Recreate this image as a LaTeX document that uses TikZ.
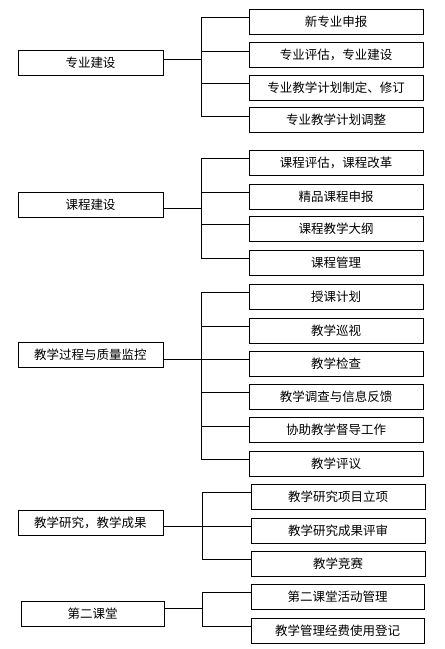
\documentclass[tikz,border=0pt]{standalone}
\usepackage{fontspec}
\newfontfamily\cjk{Noto Sans CJK SC}
\begin{document}
\begin{tikzpicture}[x=1pt,y=-1pt,
 box/.style={draw, line width=1pt, rectangle, inner sep=0pt, outer sep=0pt, anchor=north west, font=\cjk\fontsize{12.5}{14}\selectfont},
 lbox/.style={box, minimum width=145pt, minimum height=25pt},
 rbox/.style={box, minimum width=174pt, minimum height=25pt},
 conn/.style={line width=1pt}]
\useasboundingbox (0,0) rectangle (445,649);
% group 1
\node[lbox] (a0) at (18,50) {专业建设};
\node[rbox] (a1) at (249,9) {新专业申报};
\node[rbox] (a2) at (249,42.5) {专业评估，专业建设};
\node[rbox] (a3) at (249,75) {专业教学计划制定、修订};
\node[rbox] (a4) at (249,107.5) {专业教学计划调整};
\coordinate (ta) at (201,0);
\coordinate (a0c) at ([yshift=3.5pt]a0.east);
\foreach \i in {1,...,4}{\coordinate (a\i c) at ([yshift=4pt]a\i.west);}
\draw[conn] (a1c) -- (a1c -| ta) -- (a4c -| ta) -- (a4c);
\draw[conn] (a2c) -- (a2c -| ta);
\draw[conn] (a3c) -- (a3c -| ta);
\draw[conn] (a0c) -- (a0c -| ta);
% group 2
\node[lbox] (b0) at (18,192) {课程建设};
\node[rbox] (b1) at (249,150) {课程评估，课程改革};
\node[rbox] (b2) at (249,184) {精品课程申报};
\node[rbox] (b3) at (249,216) {课程教学大纲};
\node[rbox] (b4) at (249,250) {课程管理};
\coordinate (tb) at (201,0);
\coordinate (b0c) at ([yshift=-3.5pt]b0.east);
\foreach \i in {1,...,4}{\coordinate (b\i c) at ([yshift=4.5pt]b\i.west);}
\draw[conn] (b1c) -- (b1c -| tb) -- (b4c -| tb) -- (b4c);
\draw[conn] (b2c) -- (b2c -| tb);
\draw[conn] (b3c) -- (b3c -| tb);
\draw[conn] (b0c) -- (b0c -| tb);
% group 3
\node[lbox] (c0) at (18,342) {教学过程与质量监控};
\node[rbox] (c1) at (249,284) {授课计划};
\node[rbox] (c2) at (249,318) {教学巡视};
\node[rbox] (c3) at (249,351) {教学检查};
\node[rbox] (c4) at (249,384) {教学调查与信息反馈};
\node[rbox] (c5) at (249,417.5) {协助教学督导工作};
\node[rbox] (c6) at (249,451) {教学评议};
\coordinate (tc) at (201,0);
\coordinate (c0c) at ([yshift=-4.5pt]c0.east);
\foreach \i in {1,...,6}{\coordinate (c\i c) at ([yshift=4pt]c\i.west);}
\draw[conn] (c1c) -- (c1c -| tc) -- (c6c -| tc) -- (c6c);
\foreach \i in {2,...,5}{\draw[conn] (c\i c) -- (c\i c -| tc);}
\draw[conn] (c0c) -- (c0c -| tc);
% group 4
\node[lbox] (d0) at (18,510) {教学研究，教学成果};
\node[rbox] (d1) at (251,484) {教学研究项目立项};
\node[rbox] (d2) at (251,518) {教学研究成果评审};
\node[rbox] (d3) at (251,551) {教学竞赛};
\coordinate (td) at (202,0);
\coordinate (d0c) at ([yshift=-4pt]d0.east);
\foreach \i in {1,...,3}{\coordinate (d\i c) at ([yshift=4pt]d\i.west);}
\draw[conn] (d1c) -- (d1c -| td) -- (d3c -| td) -- (d3c);
\draw[conn] (d2c) -- (d2c -| td);
\draw[conn] (d0c) -- (d0c -| td);
% group 5
\node[lbox, minimum width=143pt] (e0) at (21,601) {第二课堂};
\node[rbox, minimum width=173pt] (e1) at (251,584) {第二课堂活动管理};
\node[rbox, minimum width=173pt] (e2) at (251,618) {教学管理经费使用登记};
\coordinate (te) at (202,0);
\coordinate (e0c) at ([yshift=5.5pt]e0.east);
\foreach \i in {1,2}{\coordinate (e\i c) at ([yshift=4pt]e\i.west);}
\draw[conn] (e1c) -- (e1c -| te) -- (e2c -| te) -- (e2c);
\draw[conn] (e0c) -- (e0c -| te);
\end{tikzpicture}
\end{document}
